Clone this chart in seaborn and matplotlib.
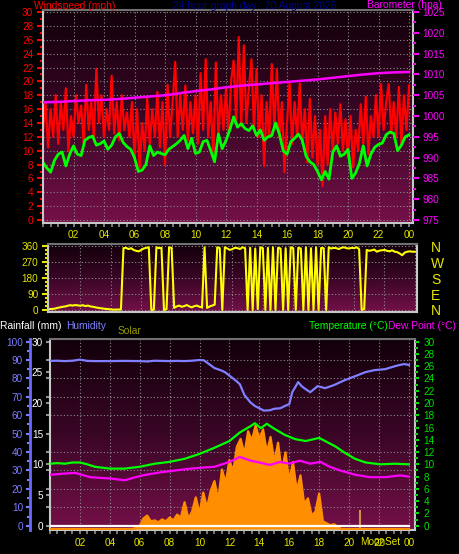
import numpy as np
import matplotlib
matplotlib.use("Agg")
import matplotlib.pyplot as plt
import matplotlib.transforms as mtransforms
from matplotlib.colors import LinearSegmentedColormap
from matplotlib.ticker import MultipleLocator
import seaborn as sns

# ---------------- data ----------------
hour_ticks = [2, 4, 6, 8, 10, 12, 14, 16, 18, 20, 22, 24]
hour_labels = ["02", "04", "06", "08", "10", "12", "14", "16", "18", "20", "22", "00"]

# wind speed (mph), one reading every 10 minutes
wind_gust = [
    13, 17, 10.5, 16, 12, 18,
    11, 17, 13, 19, 10, 15,
    12, 18, 14, 16.5, 11, 19.5,
    13, 17, 12, 21.8, 14, 18,
    12, 16, 13, 20.8, 12.5, 17,
    11.5, 18, 13, 15.5, 12, 17,
    9, 16, 7.5, 14, 10, 17.5,
    11, 16, 12, 18.5, 10.5, 17,
    8, 19.5, 12, 17, 22.8, 12,
    18, 13, 19.4, 11.5, 17, 12.5,
    18, 11, 21.2, 13, 23.2, 12,
    17, 9, 22.7, 12, 18, 13,
    19, 12.5, 20, 23, 14, 26.4,
    13.5, 25.2, 14, 19, 23.2, 13,
    21.8, 12, 18, 7.8, 17, 12,
    22.5, 13, 21.8, 12, 17, 6.9,
    14, 19.9, 11, 17, 12, 19.7,
    11, 16, 8.3, 17.5, 9, 15,
    8, 13, 4.9, 15, 8, 16,
    10, 15.5, 11, 16.7, 10, 14.5,
    9, 15, 7.6, 13, 10, 16.7,
    11, 17.8, 9.5, 15, 12, 18,
    12, 19.6, 13, 17, 19.6, 12.5,
    17, 12, 19.2, 11, 18, 13,
    19.4,
]
gust_t = np.arange(len(wind_gust)) / 6

# average wind speed (mph), every 15 minutes
wind_avg = [
    8.3, 7.5, 6.9, 8.6, 9.5, 9.8, 7.8, 9.5,
    10.7, 9.5, 9.3, 11.5, 11.9, 12.1, 10.8, 11.0,
    11.4, 10.2, 10.8, 12.0, 12.5, 11.2, 10.6, 10.2,
    9.0, 7.0, 7.2, 8.0, 10.7, 9.3, 9.8, 9.6,
    9.4, 10.2, 10.6, 11.0, 11.5, 12.2, 10.3, 11.8,
    9.6, 9.8, 11.3, 11.5, 10.0, 8.4, 12.4, 10.3,
    11.5, 13.0, 14.9, 13.4, 13.9, 13.2, 12.9, 13.6,
    12.2, 13.0, 11.5, 12.0, 12.2, 14.0, 12.4, 10.0,
    9.5, 11.3, 11.8, 12.4, 11.5, 9.2, 8.4, 8.0,
    7.0, 5.8, 7.0, 5.9, 9.8, 10.7, 9.2, 9.5,
    10.2, 6.0, 6.8, 8.2, 10.7, 7.8, 9.5, 10.5,
    10.9, 11.1, 12.3, 12.7, 12.5, 10.0, 10.8, 12.0,
    12.3,
]
avg_t = np.arange(len(wind_avg)) / 4

# barometer (hPa), hourly
barometer = [
    1003.3, 1003.4, 1003.6, 1003.8, 1003.9, 1004.1, 1004.4, 1004.7,
    1005.0, 1005.5, 1006.0, 1006.4, 1006.9, 1007.3, 1007.6, 1007.9,
    1008.2, 1008.5, 1008.8, 1009.2, 1009.6, 1010.0, 1010.3, 1010.5,
    1010.6,
]
baro_t = np.arange(len(barometer))

# wind direction (degrees), every 10 minutes
wind_dir = [
    5, 6, 8, 12, 15, 18,
    20, 24, 27, 25, 28, 26,
    24, 27, 22, 25, 20, 18,
    15, 12, 10, 8, 6, 5,
    3, 2, 2, 3, 2, 350,
    352, 345, 350, 340, 335, 332,
    340, 348, 352, 355, 0, 2,
    355, 350, 352, 0, 5, 355,
    352, 12, 20, 25, 18, 22,
    28, 20, 15, 22, 25, 18,
    15, 355, 12, 20, 25, 30,
    355, 350, 0, 355, 348, 340,
    345, 352, 350, 345, 355, 350,
    0, 352, 0, 348, 5, 355,
    350, 0, 352, 0, 355, 0,
    352, 348, 0, 350, 0, 355,
    350, 0, 352, 348, 0, 355,
    0, 350, 0, 355, 0, 352,
    350, 0, 355, 348, 352, 350,
    345, 352, 355, 350, 348, 352,
    350, 355, 345, 0, 5, 340,
    335, 338, 342, 330, 336, 338,
    340, 335, 332, 338, 330, 328,
    320, 310, 325, 330, 332, 330,
    330,
]
dir_t = np.arange(len(wind_dir)) / 6
dir_ticks = [0, 90, 180, 270, 360]
compass = ["N", "E", "S", "W", "N"]

# humidity (%)
hum_t = [0, 0.5, 1, 1.5, 2, 2.5, 3, 4, 5, 6, 6.5, 7, 8, 8.5, 9, 9.5, 10, 10.3,
         10.6, 11, 11.4, 11.7, 12.0, 12.4, 12.7, 13.0, 13.2, 13.4, 13.7, 14.0,
         14.3, 14.7, 15.0, 15.4, 15.7, 16.0, 16.2, 16.6, 16.8, 17.0, 17.4, 17.9,
         18.4, 19.0, 19.7, 20.4, 21.1, 21.7, 22.4, 23.1, 23.4, 23.7, 24.0]
humidity = [89.5, 89.6, 89.4, 89.6, 90.2, 89.5, 89.4, 89.4, 89.5, 89.4, 89.2,
            89.6, 89.4, 89.5, 89.4, 89.6, 90.0, 89.8, 88.0, 85.6, 84.5, 83.4,
            81.5, 79.0, 76.8, 71.0, 69.0, 67.0, 65.0, 63.8, 62.5, 62.7, 63.5,
            63.8, 65.0, 66.0, 72.5, 78.0, 76.0, 74.7, 72.5, 75.8, 74.7, 76.4,
            79.0, 81.2, 83.4, 84.5, 85.0, 86.7, 87.3, 87.8, 87.3]

# temperature (C)
temp_t = [0, 0.5, 1, 1.5, 2, 2.5, 3, 4, 5, 6, 7, 8, 9, 10, 11, 12, 12.7, 13.4,
          13.7, 14.1, 14.5, 15.0, 15.7, 16.4, 17.1, 18.0, 18.4, 19.1, 19.7,
          20.4, 21.1, 22.1, 23.1, 24]
temperature = [10.1, 10.2, 10.1, 10.3, 10.3, 10.0, 9.6, 9.3, 9.3, 9.6, 10.1,
               10.4, 10.9, 11.7, 12.7, 13.8, 15.2, 16.2, 16.7, 15.9, 16.6, 15.8,
               14.8, 14.1, 13.8, 14.3, 13.8, 12.9, 11.9, 10.9, 10.3, 10.0, 10.1,
               10.0]

# dew point (C)
dew_t = [0, 1, 1.7, 2.7, 4, 5, 5.7, 6.4, 7.4, 8.4, 9.4, 10.4, 11, 12, 12.7, 13.4,
         14.0, 14.7, 15.4, 16, 16.7, 17.4, 18.1, 18.7, 19.4, 20.4, 21.4, 22.4,
         23.4, 24]
dewpoint = [8.3, 8.5, 8.6, 7.9, 7.7, 7.4, 7.9, 8.3, 8.7, 9.0, 9.3, 9.5, 9.6,
            10.4, 11.2, 10.6, 10.3, 9.9, 10.4, 10.1, 10.6, 10.1, 10.4, 9.6, 9.0,
            8.3, 7.9, 7.9, 8.2, 8.0]

# solar (W/m2), every 15 minutes
solar = [
    0, 0, 0, 0, 0, 0, 0, 0, 0, 0, 0, 0, 0, 0, 0, 0, 0, 0, 0, 0, 0, 0, 0,
    5, 15, 55, 70, 40, 45, 35, 50, 40, 60, 45, 75, 60, 140, 55, 90, 165,
    80, 190, 110, 200, 250, 150, 310, 240, 360, 300, 430, 470, 390, 510,
    460, 540, 470, 520, 400, 480, 350, 450, 300, 400, 250, 350, 200, 280,
    130, 160, 70, 90, 185, 40, 30, 20, 25, 10,
    0, 0, 0, 0, 0, 0, 0, 0, 0, 0, 0, 0, 0, 0, 0, 0, 0, 0, 0,
]
sol_t = np.arange(len(solar)) / 4

# rainfall (mm)
rain_t = [0, 24]
rain = [0, 0]

moonset_hour = 20.7

# ---------------- figure ----------------
W, H = 460, 554
fig = plt.figure(figsize=(W / 100, H / 100), dpi=100, facecolor="black")
plt.rcParams["font.family"] = ["Liberation Sans", "DejaVu Sans"]

bg_cmap = LinearSegmentedColormap.from_list("bg", ["#12000a", "#3a0626", "#741048"])
grad = np.linspace(0, 1, 200).reshape(-1, 1)
GRID = dict(color="#8c8c8c", ls=(0, (1, 2)), lw=0.8)
YEL = "#e6e600"
TICK_FS = 7.2
TITLE_FS = 7.4


def panel(x0, y0, x1, y1):
    rect = [x0 / W, 1 - y1 / H, (x1 - x0) / W, (y1 - y0) / H]
    bg = fig.add_axes(rect)
    bg.imshow(grad, cmap=bg_cmap, aspect="auto", extent=(0, 1, 0, 1), origin="upper")
    bg.set_axis_off()
    ax = fig.add_axes(rect)
    ax.set_facecolor("none")
    for s in ax.spines.values():
        s.set_color("#c8c8c8")
        s.set_linewidth(1.5)
    ax.spines["top"].set_color("#707070")
    return ax


def hide_spines(ax):
    for s in ax.spines.values():
        s.set_visible(False)


# -------- top: wind speed + barometer --------
ax1 = panel(43, 10, 413, 223)
sns.lineplot(x=gust_t, y=wind_gust, ax=ax1, color="#ff0000", lw=1.6, estimator=None)
sns.lineplot(x=avg_t, y=wind_avg, ax=ax1, color="#00ff00", lw=2.0, estimator=None)
ax1.set_ylim(-0.43, 30.3)
ax1.set_yticks(np.arange(0, 31, 2))
ax1.yaxis.set_minor_locator(MultipleLocator(1))
ax1.set_xticks(hour_ticks)
ax1.set_xticklabels(hour_labels)
ax1.xaxis.set_minor_locator(MultipleLocator(0.5))
ax1.tick_params(axis="y", which="both", colors="#ff0000", labelsize=TICK_FS, width=1.5, length=4, pad=3)
ax1.tick_params(axis="y", which="minor", length=2.5)
ax1.tick_params(axis="x", which="both", colors="#909090", labelcolor=YEL, labelsize=TICK_FS, length=3, width=1.2, pad=2)
ax1.grid(which="major", **GRID)
ax1.set_xlabel("")
ax1.set_ylabel("")

ax1b = ax1.twinx()
sns.lineplot(x=baro_t, y=barometer, ax=ax1b, color="#ff00ff", lw=1.8, estimator=None)
ax1b.set_ylim(974.28, 1025.5)
ax1b.set_yticks(np.arange(975, 1026, 5))
ax1b.yaxis.set_minor_locator(MultipleLocator(2.5))
ax1b.tick_params(axis="y", which="both", colors="#ff00ff", labelsize=TICK_FS, width=1.5, length=4, pad=3)
ax1b.tick_params(axis="y", which="minor", length=2.5)
ax1b.set_ylabel("")
hide_spines(ax1b)
ax1.set_xlim(0, 24.26)

# -------- middle: wind direction --------
ax2 = panel(48, 244, 417, 312)
sns.lineplot(x=dir_t, y=wind_dir, ax=ax2, color="#ffff00", lw=1.5, estimator=None)
ax2.set_ylim(-11.4, 373.6)
ax2.set_yticks(dir_ticks)
ax2.yaxis.set_minor_locator(MultipleLocator(22.5))
ax2.set_xticks(hour_ticks)
ax2.tick_params(axis="x", labelbottom=False, length=0)
ax2.tick_params(axis="y", which="both", colors=YEL, labelsize=TICK_FS, width=1.5, length=4, pad=3)
ax2.tick_params(axis="y", which="minor", length=2.5)
ax2.grid(which="major", **GRID)
ax2.set_xlabel("")
ax2.set_ylabel("")

ax2b = ax2.twinx()
ax2b.set_ylim(-11.4, 373.6)
ax2b.set_yticks(dir_ticks)
ax2b.set_yticklabels(compass)
ax2b.tick_params(axis="y", length=0, pad=10, labelsize=10, labelcolor=YEL)
hide_spines(ax2b)
ax2.set_xlim(-0.13, 24.14)

# -------- bottom: rain, humidity, solar, temperature --------
ax3 = panel(50, 339, 415, 530)
ax3.set_ylim(-0.70, 30.42)
ax3.set_yticks(np.arange(0, 31, 5))
ax3.yaxis.set_minor_locator(MultipleLocator(3))
ax3.set_xticks(hour_ticks)
ax3.set_xticklabels(hour_labels)
ax3.xaxis.set_minor_locator(MultipleLocator(0.5))
ax3.tick_params(axis="y", which="both", colors="#909090", labelcolor="white", labelsize=TICK_FS, width=1.5, length=3, pad=2)
ax3.tick_params(axis="x", which="both", colors="#909090", labelcolor=YEL, labelsize=TICK_FS, length=3, width=1.2, pad=3)
ax3.grid(axis="x", which="major", **GRID)
ax3.grid(axis="y", which="minor", **GRID)
ax3.axvline(moonset_hour, 0, 0.1, color="#c8963c", lw=1.5)
trans = mtransforms.blended_transform_factory(ax3.transData, ax3.transAxes)
ax3.text(moonset_hour + 0.05, -0.062, "MoonSet", transform=trans, color=YEL,
         fontsize=TICK_FS, ha="left", va="center")

axS = ax3.twinx()
axS.fill_between(sol_t, solar, 0, color="#ff8e00", lw=0)
sns.lineplot(x=sol_t, y=solar, ax=axS, color="#ff8e00", lw=1.6, estimator=None)
axS.set_ylim(-5.2, 991)
axS.set_yticks([])
axS.set_ylabel("")
hide_spines(axS)

axR = ax3.twinx()
sns.lineplot(x=rain_t, y=rain, ax=axR, color="white", lw=1.6, estimator=None)
axR.set_ylim(-0.70, 30.42)
axR.set_yticks([])
axR.set_ylabel("")
hide_spines(axR)

axH = ax3.twinx()
sns.lineplot(x=hum_t, y=humidity, ax=axH, color="#7f7fff", lw=1.6, estimator=None)
axH.set_ylim(-2.33, 101.4)
hide_spines(axH)
axH.spines["left"].set_visible(True)
axH.spines["left"].set_position(("axes", -20 / 365))
axH.spines["left"].set_color("#6a6aff")
axH.spines["left"].set_linewidth(2)
axH.yaxis.set_ticks_position("left")
axH.yaxis.set_label_position("left")
axH.set_yticks(np.arange(0, 101, 10))
axH.yaxis.set_minor_locator(MultipleLocator(5))
axH.tick_params(axis="y", which="both", colors="#7c7cff", labelsize=TICK_FS, width=1.5, length=3, pad=2)
axH.tick_params(axis="y", which="minor", length=2)
axH.set_ylabel("")

axT = ax3.twinx()
sns.lineplot(x=temp_t, y=temperature, ax=axT, color="#00ff00", lw=1.6, estimator=None)
sns.lineplot(x=dew_t, y=dewpoint, ax=axT, color="#ff00ff", lw=1.6, estimator=None)
axT.set_ylim(-0.70, 30.42)
axT.set_yticks(np.arange(0, 31, 2))
axT.yaxis.set_minor_locator(MultipleLocator(1))
axT.tick_params(axis="y", which="both", colors="#00e000", labelsize=TICK_FS, width=1.5, length=3, pad=3)
axT.tick_params(axis="y", which="minor", length=2)
axT.set_ylabel("")
hide_spines(axT)
ax3.set_xlim(0, 24.41)

# -------- titles --------
def label(x, y, s, c, ha="left", size=TITLE_FS):
    fig.text(x / W, 1 - y / H, s, color=c, ha=ha, va="center", fontsize=size)

label(34, 6, "Windspeed (mph)", "#ff0000")
label(255, 6, "24 hour graph day : 20 August 2026", "#00008c", ha="center")
label(442, 5, "Barometer (hpa)", "#ff00ff", ha="right")
label(0, 326, "Rainfall (mm)", "white")
label(66, 326, "Humidity", "#8080ff")
label(118, 331, "Solar", "#999900")
label(309, 326, "Temperature (\u00b0C)", "#00ff00")
label(388, 326, "Dew Point (\u00b0C)", "#ff00ff")

fig.savefig("out.png", dpi=100, facecolor="black")
